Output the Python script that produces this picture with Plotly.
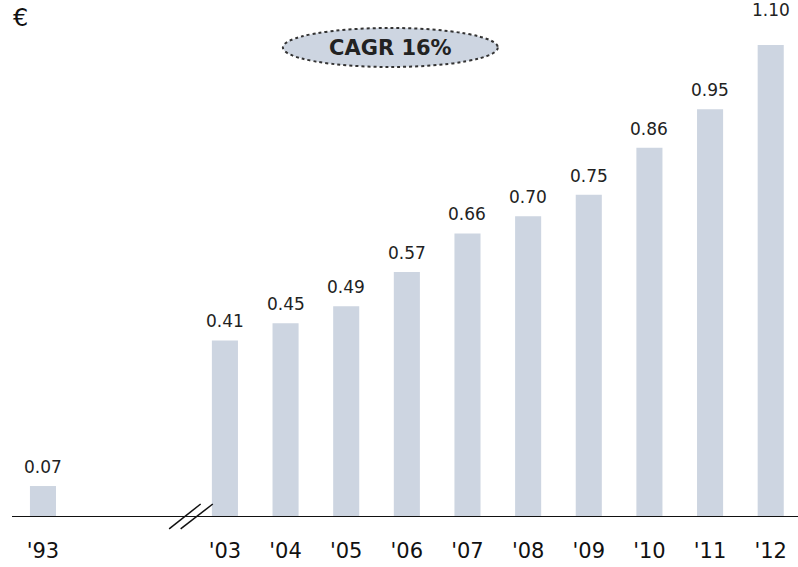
import plotly.graph_objects as go

years = ["'93", "'03", "'04", "'05", "'06", "'07", "'08", "'09", "'10", "'11", "'12"]
dividends = [0.07, 0.41, 0.45, 0.49, 0.57, 0.66, 0.70, 0.75, 0.86, 0.95, 1.10]
positions = [0, 3, 4, 5, 6, 7, 8, 9, 10, 11, 12]
cagr_label = "CAGR 16%"

bar_color = "#CDD5E1"
font_family = "DejaVu Sans, Verdana, sans-serif"

ML, MT, MB = 12, 0, 31
W, H = 798, 567
PW, PH = W - ML, H - MT - MB

fig = go.Figure()
fig.add_trace(go.Bar(
    x=positions, y=dividends, width=0.43,
    marker=dict(color=bar_color, line=dict(width=0)),
    hoverinfo="skip",
))

# value labels
for i, (xp, v) in enumerate(zip(positions, dividends)):
    shift = 7 if i < len(dividends) - 1 else 23
    fig.add_annotation(x=xp, y=v, xref="x", yref="y", text=f"{v:.2f}", showarrow=False,
                       yanchor="bottom", yshift=shift,
                       font=dict(size=17, color="#222222", family=font_family))

# axis break marks
for x0, x1 in [(2.08, 2.60), (2.27, 2.80)]:
    fig.add_shape(type="line", xref="x", yref="y", x0=x0, x1=x1, y0=-0.030, y1=0.028,
                  line=dict(color="#111111", width=1.5))

# CAGR ellipse
fig.add_shape(type="circle", xref="x", yref="y", x0=3.956, x1=7.50, y0=1.0486, y1=1.1397,
              fillcolor=bar_color, line=dict(color="#333333", width=2, dash="dot"), layer="above")
fig.add_annotation(x=5.73, y=1.094, xref="x", yref="y", text=f"<b>{cagr_label}</b>",
                   showarrow=False, font=dict(size=21, color="#222222", family=font_family))

fig.add_annotation(x=(20 - ML) / PW, y=(H - MB - 18) / PH, xref="paper", yref="paper",
                   text="€", showarrow=False, xanchor="center", yanchor="middle",
                   font=dict(size=24, color="#111111", family=font_family))

fig.update_layout(
    width=W, height=H,
    margin=dict(l=ML, r=0, t=MT, b=MB, pad=0),
    paper_bgcolor="white", plot_bgcolor="white",
    showlegend=False,
    font=dict(family=font_family, color="#111111"),
    xaxis=dict(
        range=[-0.511, 12.45],
        tickmode="array", tickvals=positions, ticktext=years,
        tickfont=dict(size=21, color="#111111", family=font_family),
        showgrid=False, zeroline=False, showline=False,
        ticks="", automargin=False,
    ),
    yaxis=dict(
        range=[-20 / 428.2, 516 / 428.2],
        showticklabels=False, showgrid=False,
        zeroline=True, zerolinecolor="#111111", zerolinewidth=1.2,
        showline=False, ticks="", automargin=False,
    ),
)

fig.write_html("out.html", config={"displayModeBar": False},
               post_script="document.body.style.margin='0';document.body.style.padding='0';")
